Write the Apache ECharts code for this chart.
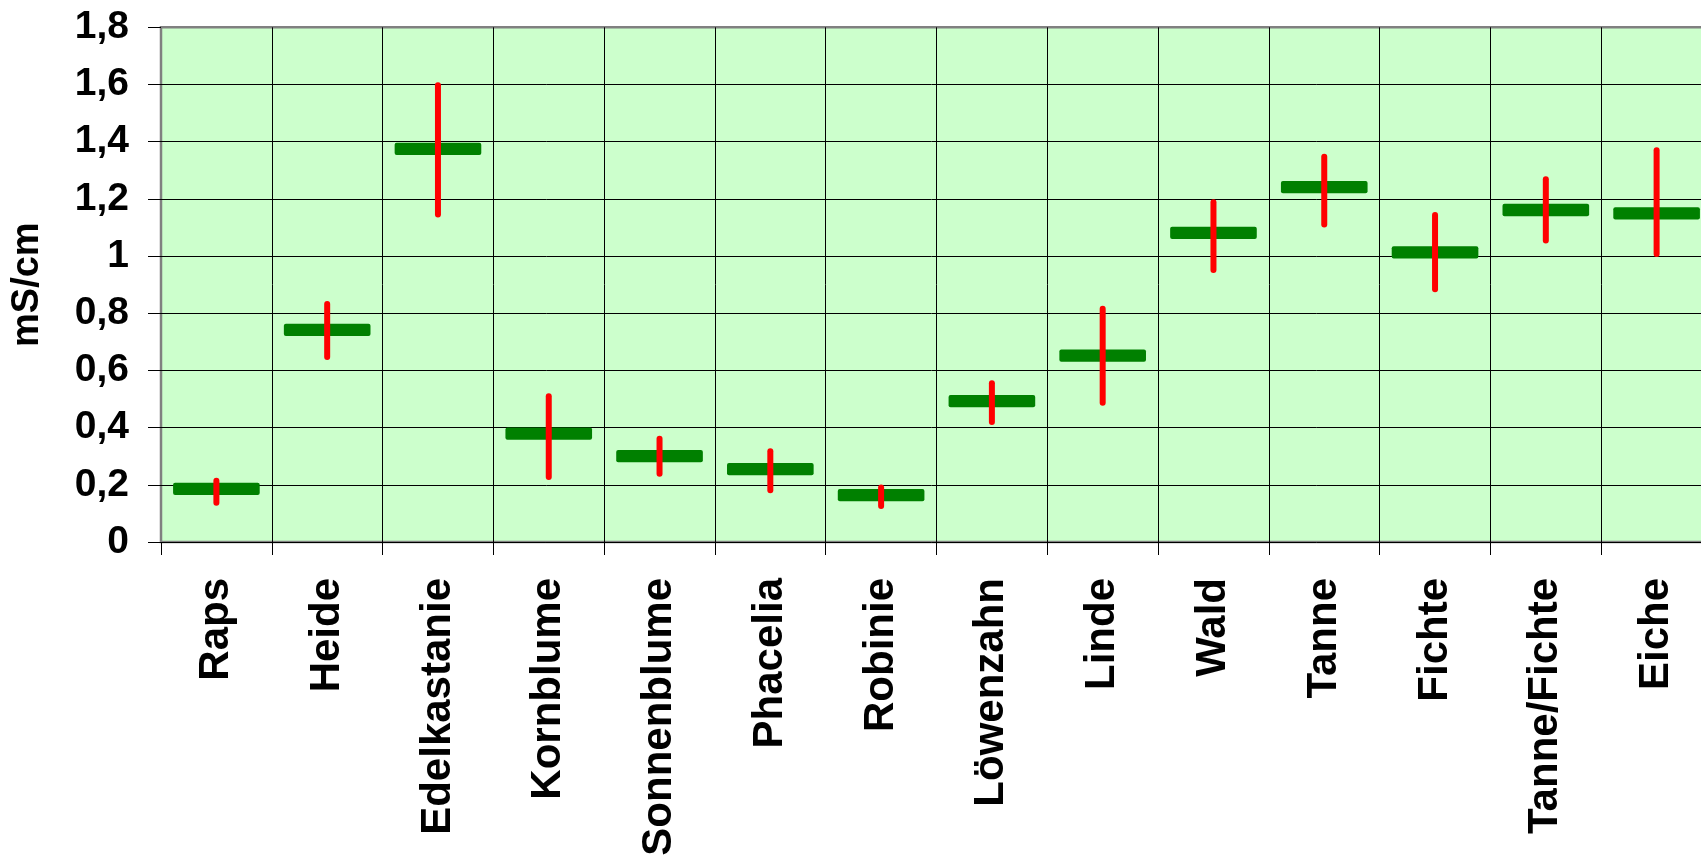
<!DOCTYPE html>
<html>
<head>
<meta charset="utf-8">
<script src="https://cdn.jsdelivr.net/npm/echarts@6/dist/echarts.min.js"></script>
<style>
  html, body { margin: 0; padding: 0; background: #ffffff; }
  #chart { width: 1701px; height: 863px; }
</style>
</head>
<body>
<div id="chart"></div>
<script>
// Honey types and their electrical conductivity (mS/cm): mean with min/max range
const categories = ['Raps', 'Heide', 'Edelkastanie', 'Kornblume', 'Sonnenblume', 'Phacelia', 'Robinie',
  'Löwenzahn', 'Linde', 'Wald', 'Tanne', 'Fichte', 'Tanne/Fichte', 'Eiche'];
const meanValues = [0.186, 0.742, 1.375, 0.379, 0.300, 0.255, 0.164, 0.493, 0.652, 1.081, 1.241, 1.013, 1.161, 1.149];
const lowValues  = [0.137, 0.647, 1.145, 0.227, 0.239, 0.181, 0.126, 0.420, 0.487, 0.951, 1.110, 0.884, 1.054, 1.007];
const highValues = [0.214, 0.832, 1.597, 0.510, 0.361, 0.317, 0.191, 0.555, 0.816, 1.188, 1.347, 1.144, 1.269, 1.370];
const yTickLabels = ['0', '0,2', '0,4', '0,6', '0,8', '1', '1,2', '1,4', '1,6', '1,8'];
const yAxisTitle = 'mS/cm';

const FONT = '"Liberation Sans", Arial, Helvetica, sans-serif';

const seriesData = categories.map((c, i) => [i, meanValues[i], lowValues[i], highValues[i]]);

const chart = echarts.init(document.getElementById('chart'), null, { renderer: 'canvas' });

chart.setOption({
  animation: false,
  backgroundColor: '#ffffff',
  grid: {
    left: 161,
    top: 27.3,
    width: 1551,
    height: 514.7,
    show: true,
    backgroundColor: '#CCFFCC',
    borderColor: '#808080',
    borderWidth: 2.5,
    containLabel: false,
    outerBoundsMode: 'none'
  },
  xAxis: {
    type: 'category',
    data: categories,
    boundaryGap: true,
    axisLine: { show: true, lineStyle: { color: '#000000', width: 1 } },
    axisTick: { show: true, interval: 0, length: 13, lineStyle: { color: '#000000', width: 1 } },
    axisLabel: {
      interval: 0,
      rotate: 90,
      margin: 36,
      fontFamily: FONT,
      fontWeight: 'bold',
      fontSize: 42,
      color: '#000000'
    },
    splitLine: { show: true, interval: 0, showMinLine: false, showMaxLine: false, lineStyle: { color: '#000000', width: 1 } }
  },
  yAxis: {
    type: 'value',
    min: 0,
    max: 1.8,
    interval: 0.2,
    name: yAxisTitle,
    nameLocation: 'middle',
    nameGap: 114,
    nameRotate: 90,
    nameTextStyle: { fontFamily: FONT, fontWeight: 'bold', fontSize: 38, color: '#000000' },
    axisLine: { show: false },
    axisTick: { show: true, length: 13, lineStyle: { color: '#000000', width: 1 } },
    axisLabel: {
      margin: 32,
      fontFamily: FONT,
      fontWeight: 'bold',
      fontSize: 39,
      color: '#000000',
      formatter: (v) => yTickLabels[Math.round(v / 0.2)]
    },
    splitLine: { show: true, showMinLine: false, showMaxLine: false, lineStyle: { color: '#000000', width: 1 } }
  },
  series: [{
    type: 'custom',
    data: seriesData,
    encode: { x: 0, y: [1, 2, 3] },
    renderItem: (params, api) => {
      const idx = api.value(0);
      const mid = api.coord([idx, api.value(1)]);
      const lo = api.coord([idx, api.value(2)]);
      const hi = api.coord([idx, api.value(3)]);
      const band = api.size([1, 0])[0];
      const w = band * 0.782;
      const h = 12.3;
      return {
        type: 'group',
        children: [
          {
            type: 'rect',
            shape: { x: mid[0] - w / 2, y: mid[1] - h / 2, width: w, height: h, r: 2 },
            style: { fill: '#008000' }
          },
          {
            type: 'line',
            shape: { x1: mid[0], y1: hi[1], x2: mid[0], y2: lo[1] },
            style: { stroke: '#FF0000', lineWidth: 6, lineCap: 'round' }
          }
        ]
      };
    }
  }]
});
</script>
</body>
</html>
